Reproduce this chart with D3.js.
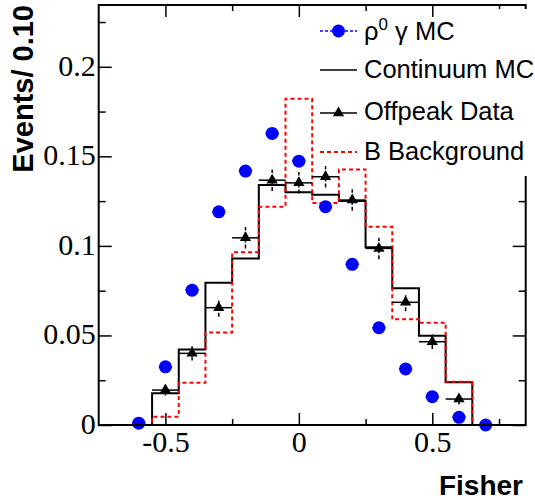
<!DOCTYPE html>
<html>
<head>
<meta charset="utf-8" />
<title>Fisher</title>
<script src="https://d3js.org/d3.v7.min.js"></script>
<style>
body { margin:0; background:white; }
text { fill:black; }
.tick text { font-family:"Liberation Serif","Times New Roman",serif; font-size:30px; }
.tick line { stroke:black; stroke-width:1.5px; }
.domain { display:none; }
</style>
</head>
<body>
<div id="fig"></div>
<script>

// bins: 16 bins of 0.1 from -0.75 to 0.85
var binLo = [-0.75,-0.65,-0.55,-0.45,-0.35,-0.25,-0.15,-0.05,0.05,0.15,0.25,0.35,0.45,0.55,0.65,0.75]
var binHi = 0.85

var continuumMC = [0,0,0.0177,0.0422,0.0794,0.0930,0.1340,0.1300,0.1285,0.1250,0.0992,0.0763,0.0498,0.0238,0,0]
var bBackground = [0,0,0.0046,0.0236,0.0517,0.0964,0.1219,0.1821,0.1240,0.1427,0.1107,0.0590,0.0571,0.0242,0,0]

// offpeak data points (bin centers)
var offX   = [-0.5,-0.4,-0.3,-0.2,-0.1,0,0.1,0.2,0.3,0.4,0.5,0.6]
var offY   = [0.0195,0.0400,0.0655,0.1045,0.1367,0.1352,0.1386,0.1256,0.0986,0.0685,0.0465,0.0145]
var offErr = [0.003,0.004,0.005,0.006,0.006,0.006,0.006,0.006,0.006,0.005,0.004,0.003]

// rho0 gamma MC
var sigX = [-0.6,-0.5,-0.4,-0.3,-0.2,-0.1,0,0.1,0.2,0.3,0.4,0.5,0.6,0.7]
var sigY = [0.001,0.0325,0.0753,0.1190,0.1418,0.1628,0.1473,0.1219,0.0897,0.0543,0.0313,0.0158,0.0043,0.0]

var yMajor = [0,0.05,0.1,0.15,0.2]
var yMajorLabels = ["0","0.05","0.1","0.15","0.2"]
var yMinor = [0.025,0.075,0.125,0.175,0.225]
var xMajor = [-0.5,0,0.5]
var xMajorLabels = ["-0.5","0","0.5"]
var xMinor = [-0.25,0.25,0.75]

var W = 535, H = 500
var frame = {left:98.7, right:525.7, top:5, bottom:425}

var svg = d3.select("#fig").append("svg")
	.attr("width", W)
	.attr("height", H)

var x = d3.scaleLinear().domain([-0.75,0.85]).range([frame.left, frame.right])
var y = d3.scaleLinear().domain([0,0.2345]).range([frame.bottom, frame.top])

// histogram step line
function histPoints(vals) {
	var pts = binLo.map(function(lo,i){ return [lo, vals[i]] })
	pts.push([binHi, vals[vals.length-1]])
	return pts
}
var stepLine = d3.line()
	.x(function(d){ return x(d[0]) })
	.y(function(d){ return y(d[1]) })
	.curve(d3.curveStepAfter)

svg.append("path")
	.datum(histPoints(continuumMC))
	.attr("d", stepLine)
	.attr("fill","none")
	.attr("stroke","black")
	.attr("stroke-width",2)

svg.append("path")
	.datum(histPoints(bBackground))
	.attr("d", stepLine)
	.attr("fill","none")
	.attr("stroke","#ff0000")
	.attr("stroke-width",2)
	.attr("stroke-dasharray","4,3")

// signal MC: dashed horizontal bars + circles
var sig = sigX.map(function(v,i){ return {x:v, y:sigY[i]} })
svg.selectAll(".sigbar").data(sig).enter().append("line")
	.attr("x1", function(d){ return x(d.x-0.025) })
	.attr("x2", function(d){ return x(d.x+0.025) })
	.attr("y1", function(d){ return y(d.y) })
	.attr("y2", function(d){ return y(d.y) })
	.attr("stroke","#0000ff")
	.attr("stroke-width",1.5)
	.attr("stroke-dasharray","3,3")
svg.selectAll(".sigpt").data(sig).enter().append("circle")
	.attr("cx", function(d){ return x(d.x) })
	.attr("cy", function(d){ return y(d.y) })
	.attr("r", 6.5)
	.attr("fill","#0000ff")

// offpeak data: error bars + triangles
var off = offX.map(function(v,i){ return {x:v, y:offY[i], e:offErr[i]} })
var offG = svg.append("g")
offG.selectAll(".hbar").data(off).enter().append("line")
	.attr("x1", function(d){ return x(d.x-0.05) })
	.attr("x2", function(d){ return x(d.x+0.05) })
	.attr("y1", function(d){ return y(d.y) })
	.attr("y2", function(d){ return y(d.y) })
	.attr("stroke","black")
	.attr("stroke-width",1.5)
offG.selectAll(".vbar").data(off).enter().append("line")
	.attr("x1", function(d){ return x(d.x) })
	.attr("x2", function(d){ return x(d.x) })
	.attr("y1", function(d){ return y(d.y-d.e) })
	.attr("y2", function(d){ return y(d.y+d.e) })
	.attr("stroke","black")
	.attr("stroke-width",1.5)
	.attr("stroke-dasharray","4,2")
var tri = d3.symbol().type(d3.symbolTriangle).size(55)
offG.selectAll(".tri").data(off).enter().append("path")
	.attr("d", tri)
	.attr("transform", function(d){ return "translate(" + x(d.x) + "," + y(d.y) + ")" })
	.attr("fill","black")

// axes, ticks inside
function fmt(vals, labels) {
	return function(d){ var i = vals.indexOf(d); return i < 0 ? "" : labels[i] }
}
svg.append("g")
	.attr("transform","translate(" + frame.left + ",0)")
	.call(d3.axisLeft(y).tickValues(yMajor).tickSize(-13).tickPadding(3).tickFormat(fmt(yMajor,yMajorLabels)))
	.selectAll("text").attr("dy","0.28em")
svg.append("g")
	.attr("transform","translate(" + frame.left + ",0)")
	.call(d3.axisLeft(y).tickValues(yMinor).tickSize(-7).tickFormat(""))
svg.append("g")
	.attr("transform","translate(" + frame.right + ",0)")
	.call(d3.axisRight(y).tickValues(yMajor).tickSize(-13).tickFormat(""))
svg.append("g")
	.attr("transform","translate(" + frame.right + ",0)")
	.call(d3.axisRight(y).tickValues(yMinor).tickSize(-7).tickFormat(""))

svg.append("g")
	.attr("transform","translate(0," + frame.bottom + ")")
	.call(d3.axisBottom(x).tickValues(xMajor).tickSize(-12).tickPadding(6).tickFormat(fmt(xMajor,xMajorLabels)))
	.selectAll("text").attr("dy","0.71em")
svg.append("g")
	.attr("transform","translate(0," + frame.bottom + ")")
	.call(d3.axisBottom(x).tickValues(xMinor).tickSize(-6).tickFormat(""))
svg.append("g")
	.attr("transform","translate(0," + frame.top + ")")
	.call(d3.axisTop(x).tickValues(xMajor).tickSize(-12).tickFormat(""))
svg.append("g")
	.attr("transform","translate(0," + frame.top + ")")
	.call(d3.axisTop(x).tickValues(xMinor).tickSize(-6).tickFormat(""))

svg.selectAll(".tick text").attr("fill","black")

// frame
svg.append("rect")
	.attr("x", frame.left)
	.attr("y", frame.top)
	.attr("width", frame.right - frame.left)
	.attr("height", frame.bottom - frame.top)
	.attr("fill","none")
	.attr("stroke","black")
	.attr("stroke-width",2)

// axis titles
svg.append("text")
	.text("Fisher")
	.attr("x", 523)
	.attr("y", 495)
	.attr("text-anchor","end")
	.attr("font-family","'Liberation Sans',Arial,sans-serif")
	.attr("font-weight","bold")
	.attr("font-size",28)

svg.append("text")
	.text("Events/ 0.10")
	.attr("text-anchor","end")
	.attr("font-family","'Liberation Sans',Arial,sans-serif")
	.attr("font-weight","bold")
	.attr("font-size",29)
	.attr("transform","translate(33,5) rotate(-90)")

// legend (white box hides the right frame behind it)
svg.append("rect")
	.attr("x", 470).attr("y", 9)
	.attr("width", 65).attr("height", 167)
	.attr("fill","white")

var legX1 = 320, legX2 = 357, legMid = 338.5, legText = 364
var lg = svg.append("g")
	.attr("font-family","'Liberation Sans',Arial,sans-serif")
	.attr("font-size",25.5)

lg.append("line").attr("x1",legX1).attr("x2",legX2).attr("y1",31).attr("y2",31)
	.attr("stroke","#0000ff").attr("stroke-width",1.5).attr("stroke-dasharray","3,2")
lg.append("circle").attr("cx",legMid).attr("cy",31).attr("r",6.5).attr("fill","#0000ff")
var t1 = lg.append("text").attr("x",legText).attr("y",39.5)
t1.append("tspan").text("ρ")
t1.append("tspan").text("0").attr("font-size",17).attr("dy",-10)
t1.append("tspan").text(" γ MC").attr("dy",10)

lg.append("line").attr("x1",legX1).attr("x2",legX2).attr("y1",70).attr("y2",70)
	.attr("stroke","black").attr("stroke-width",1.5)
lg.append("text").attr("x",legText).attr("y",78).text("Continuum MC")

lg.append("line").attr("x1",legX1).attr("x2",legX2).attr("y1",113).attr("y2",113)
	.attr("stroke","black").attr("stroke-width",1.5)
lg.append("path").attr("d",tri).attr("transform","translate(" + legMid + ",113)").attr("fill","black")
lg.append("text").attr("x",legText).attr("y",120).text("Offpeak Data")

lg.append("line").attr("x1",legX1).attr("x2",legX2).attr("y1",152).attr("y2",152)
	.attr("stroke","#ff0000").attr("stroke-width",2).attr("stroke-dasharray","4,3")
lg.append("text").attr("x",legText).attr("y",160).text("B Background")

</script>
</body>
</html>
